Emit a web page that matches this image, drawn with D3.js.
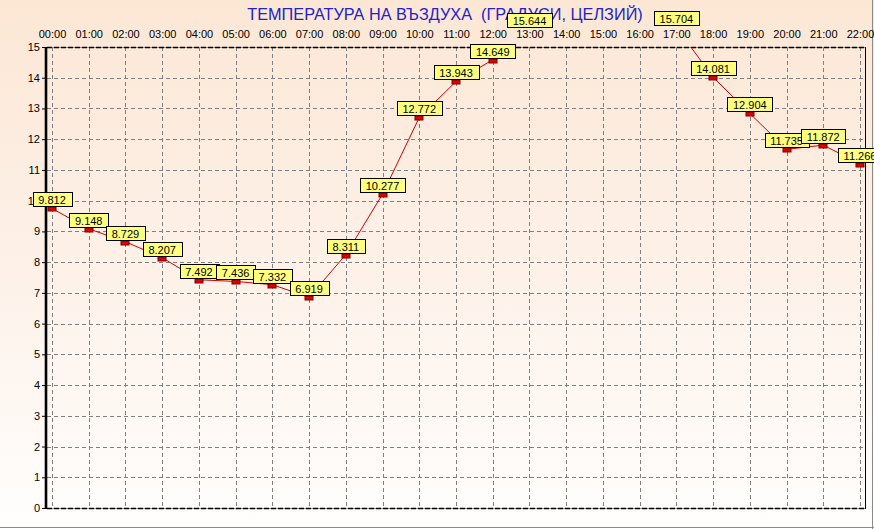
<!DOCTYPE html>
<html>
<head>
<meta charset="utf-8">
<script src="https://cdn.jsdelivr.net/npm/d3@7"></script>
<style>
html,body{margin:0;padding:0;background:#fff;}
svg{display:block;font-family:"Liberation Sans",Arial,sans-serif;}
</style>
</head>
<body>
<svg id="chart" width="874" height="529"></svg>
<script>
const title = "ТЕМПЕРАТУРА НА ВЪЗДУХА  (ГРАДУСИ, ЦЕЛЗИЙ)";
const hours = ["00:00","01:00","02:00","03:00","04:00","05:00","06:00","07:00","08:00","09:00","10:00","11:00","12:00","13:00","14:00","15:00","16:00","17:00","18:00","19:00","20:00","21:00","22:00"];
const temps = [9.812,9.148,8.729,8.207,7.492,7.436,7.332,6.919,8.311,10.277,12.772,13.943,14.649,15.644,null,null,null,15.704,14.081,12.904,11.735,11.872,11.266];
const yTicks = [0,1,2,3,4,5,6,7,8,9,10,11,12,13,14,15];

const svg = d3.select("#chart");
const W = 874, H = 529;
const L = 47, R = 865, T = 47, B = 508;

const defs = svg.append("defs");
const grad = defs.append("linearGradient").attr("id","bg").attr("x1",0).attr("y1",0).attr("x2",0).attr("y2",1);
grad.append("stop").attr("offset","0%").attr("stop-color","#fce7d5");
grad.append("stop").attr("offset","50%").attr("stop-color","#fdf1e8");
grad.append("stop").attr("offset","100%").attr("stop-color","#fffefd");
defs.append("clipPath").attr("id","plotclip").append("rect")
  .attr("x",L).attr("y",T).attr("width",R-L).attr("height",B-T);

svg.append("rect").attr("width",W).attr("height",H).attr("fill","url(#bg)");
// window frame
svg.append("line").attr("x1",0).attr("x2",W).attr("y1",H-1.5).attr("y2",H-1.5).attr("stroke","#8a8a8a").attr("stroke-width",1);
svg.append("line").attr("x1",W-1.5).attr("x2",W-1.5).attr("y1",0).attr("y2",H).attr("stroke","#8a8a8a").attr("stroke-width",1);

const x = d3.scaleLinear().domain([0, hours.length-1]).range([52, 860]);
const y = d3.scaleLinear().domain([0, 15]).range([B, T]);

// grid
const grid = svg.append("g");
grid.selectAll("line.h").data(yTicks.filter(t => t > 0 && t < 15)).join("line")
  .attr("x1",L).attr("x2",R).attr("y1",d=>Math.round(y(d))+0.5).attr("y2",d=>Math.round(y(d))+0.5)
  .attr("stroke","#808080").attr("stroke-dasharray","4,3");
grid.selectAll("line.v").data(hours.map((h,i)=>i)).join("line")
  .attr("x1",d=>Math.round(x(d))+0.5).attr("x2",d=>Math.round(x(d))+0.5).attr("y1",T).attr("y2",B)
  .attr("stroke","#808080").attr("stroke-dasharray","4,3");

// borders
[T,B].forEach(yy=>{
  svg.append("line").attr("x1",L).attr("x2",R).attr("y1",yy+0.5).attr("y2",yy+0.5)
    .attr("stroke","#909090").attr("stroke-width",1);
  svg.append("line").attr("x1",L).attr("x2",R).attr("y1",yy+0.5).attr("y2",yy+0.5)
    .attr("stroke","#000").attr("stroke-width",1.6).attr("stroke-dasharray","5,2");
});
svg.append("line").attr("x1",R+0.5).attr("x2",R+0.5).attr("y1",T).attr("y2",B+1).attr("stroke","#000");

// top axis (hour labels)
const xAxis = d3.axisTop(x).tickValues(hours.map((h,i)=>i)).tickFormat(i=>hours[i]).tickSize(0).tickPadding(9);
const gx = svg.append("g").attr("transform",`translate(0,${T})`).call(xAxis);
gx.select(".domain").remove();
gx.selectAll("text").attr("font-size",11).attr("fill","#000").attr("font-family","Liberation Sans, Arial, sans-serif");

// left axis
const yAxis = d3.axisLeft(y).tickValues(yTicks).tickFormat(d3.format("d")).tickSizeInner(4).tickSizeOuter(0).tickPadding(3);
const gy = svg.append("g").attr("transform",`translate(${L},0)`).call(yAxis);
gy.select(".domain").remove();
gy.selectAll("line").attr("stroke","#000").attr("transform","translate(-1,0)");
gy.selectAll("text").attr("font-size",11).attr("fill","#000").attr("font-family","Liberation Sans, Arial, sans-serif");
svg.append("line").attr("x1",46).attr("x2",46).attr("y1",T).attr("y2",B+1).attr("stroke","#000").attr("stroke-width",2.6);

// title
svg.append("text").attr("x",445).attr("y",20).attr("text-anchor","middle")
  .attr("font-size",16.3).attr("fill","#2323c8").style("white-space","pre").attr("xml:space","preserve").text(title);

const pts = temps.map((v,i)=>({i, v}));

// line
const line = d3.line().defined(d=>d.v!=null).x(d=>x(d.i)).y(d=>y(d.v)+2);
svg.append("path").datum(pts).attr("d",line).attr("fill","none")
  .attr("stroke","#d40000").attr("stroke-width",1).attr("clip-path","url(#plotclip)");

// markers
svg.append("g").attr("clip-path","url(#plotclip)").selectAll("rect").data(pts.filter(d=>d.v!=null)).join("rect")
  .attr("x",d=>Math.round(x(d.i))-4).attr("y",d=>Math.round(y(d.v))+1)
  .attr("width",8).attr("height",4).attr("fill","#e00000").attr("stroke","#7a0000").attr("stroke-width",1);

// value labels
const lg = svg.append("g");
pts.filter(d=>d.v!=null).forEach(d=>{
  const g = lg.append("g");
  const cx = x(d.i), by = Math.round(y(d.v)) + 0.5;
  const t = g.append("text").attr("font-size",11).attr("text-anchor","middle")
    .attr("x",cx).attr("y",by-3).attr("fill","#000").text(d3.format(".3f")(d.v));
  const w = t.node().getComputedTextLength() + 11;
  g.insert("rect","text").attr("x",Math.round(cx - w/2)+0.5).attr("y",by-14)
    .attr("width",Math.round(w)).attr("height",14)
    .attr("fill","#ffff80").attr("stroke","#000").attr("stroke-width",1);
});
</script>
</body>
</html>
